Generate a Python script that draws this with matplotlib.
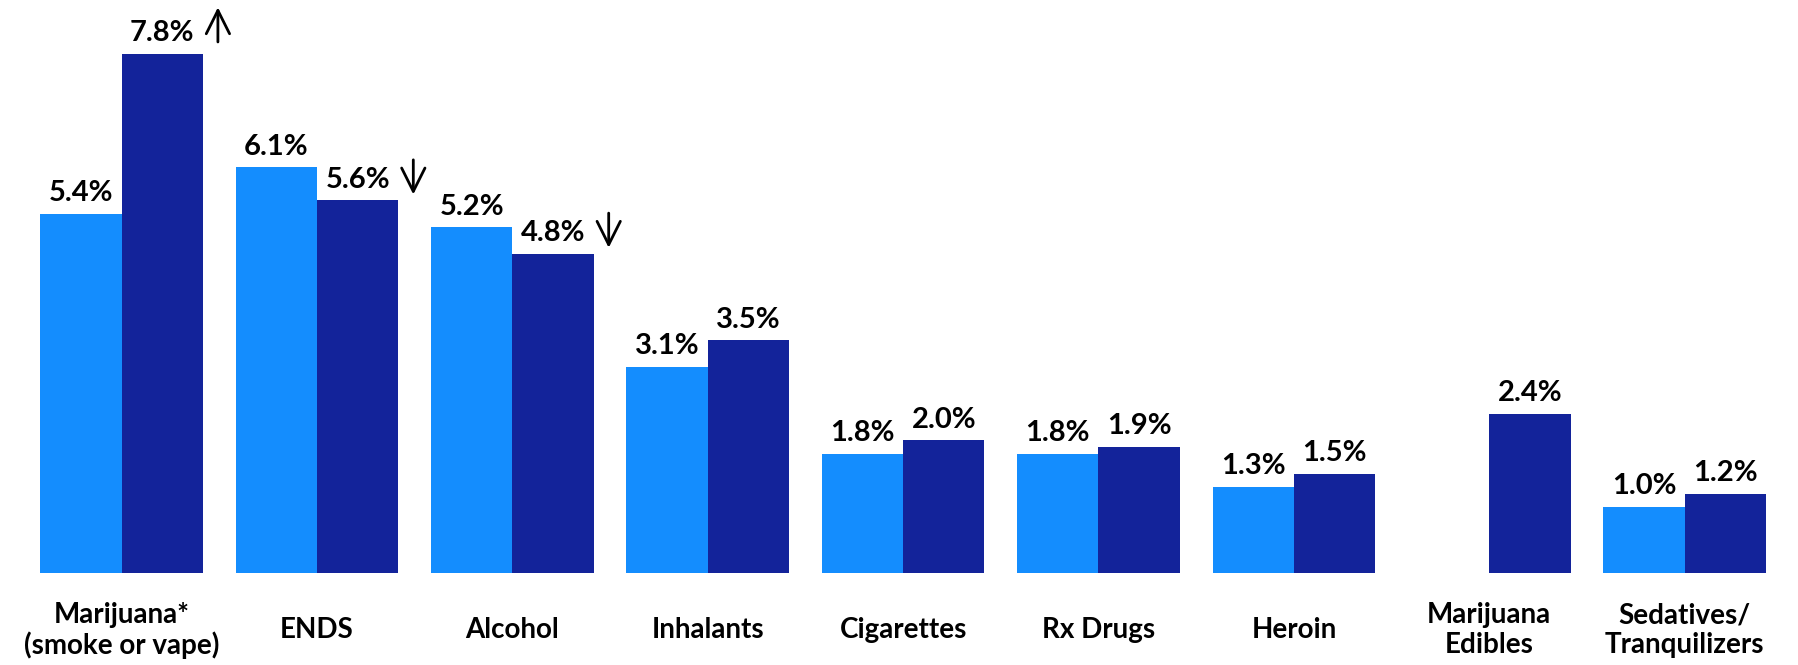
import numpy as np
import matplotlib
matplotlib.use("Agg")
import matplotlib.pyplot as plt

# values (percent)
categories = ["Marijuana*\n(smoke or vape)", "ENDS", "Alcohol", "Inhalants",
              "Cigarettes", "Rx Drugs", "Heroin", "Marijuana\nEdibles",
              "Sedatives/\nTranquilizers"]
prev_year = [5.4, 6.1, 5.2, 3.1, 1.8, 1.8, 1.3, np.nan, 1.0]
curr_year = [7.8, 5.6, 4.8, 3.5, 2.0, 1.9, 1.5, 2.4, 1.2]
trend = ["up", "down", "down", None, None, None, None, None, None]

LIGHT = "#148DFE"
DARK = "#13239A"
BAR_W = 0.4165

plt.rcParams['font.family'] = ['Lato', 'DejaVu Sans']

fig = plt.figure(figsize=(17.98, 6.65), dpi=100)
ax = fig.add_axes([0, 0.1377, 1, 0.8623])

x = np.arange(len(categories))
ax.bar(x - BAR_W / 2, prev_year, BAR_W, color=LIGHT)
ax.bar(x + BAR_W / 2, curr_year, BAR_W, color=DARK)

# value labels
for i in range(len(categories)):
    for off, v in ((-BAR_W / 2, prev_year[i]), (BAR_W / 2, curr_year[i])):
        if np.isnan(v):
            continue
        ax.annotate(f"{v:.1f}%", xy=(i + off, v), xytext=(0, 9),
                    textcoords="offset points", ha="center", va="baseline",
                    fontsize=21, fontweight="bold", color="black")

# trend arrows next to the current-year labels
for i, t in enumerate(trend):
    if t is None:
        continue
    v = curr_year[i]
    ax_x = i + BAR_W / 2 + 0.285
    if t == "up":
        tail, head = v + 0.18, v + 0.70
    else:
        tail, head = v + 0.61, v + 0.09
    ax.annotate("", xy=(ax_x, head), xytext=(ax_x, tail),
                arrowprops=dict(arrowstyle="->", lw=2.0, color="black",
                                mutation_scale=42, shrinkA=0, shrinkB=0))

# category labels under the bars
for i, c in enumerate(categories):
    ax.text(i, -0.85, c, ha="center", va="center", fontsize=20,
            fontweight="bold", linespacing=1.15, clip_on=False)

ax.set_xlim(-0.622, 8.58)
ax.set_ylim(0, 8.61)
ax.axis("off")

fig.savefig("out.png", dpi=100)
